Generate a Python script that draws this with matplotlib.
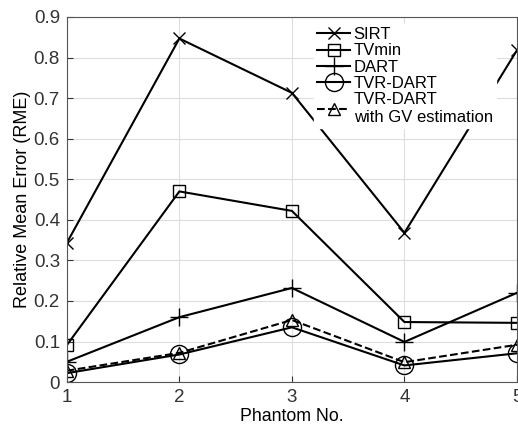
import matplotlib.pyplot as plt
import numpy as np

plt.rcParams['font.family'] = ['Liberation Sans', 'DejaVu Sans']

phantoms = [1, 2, 3, 4, 5]
sirt = [0.343, 0.847, 0.713, 0.368, 0.818]
tvmin = [0.091, 0.470, 0.422, 0.148, 0.146]
dart = [0.050, 0.160, 0.232, 0.099, 0.220]
tvr_dart = [0.022, 0.068, 0.135, 0.041, 0.071]
tvr_dart_gv = [0.028, 0.072, 0.153, 0.049, 0.092]

fig = plt.figure(figsize=(5.18, 4.25), dpi=100)
ax = fig.add_axes([0.129, 0.101, 0.869, 0.859])

mk = dict(color='black', lw=1.5, markerfacecolor='none', markeredgecolor='black',
          markeredgewidth=1.0)
ax.plot(phantoms, sirt, marker='x', ms=9, label='SIRT', **mk)
ax.plot(phantoms, tvmin, marker='s', ms=9, label='TVmin', **mk)
ax.plot(phantoms, dart, marker='+', ms=13, label='DART', **mk)
ax.plot(phantoms, tvr_dart, marker='o', ms=13, label='TVR-DART', **mk)
ax.plot(phantoms, tvr_dart_gv, marker='^', ms=8, ls='--',
        label='TVR-DART\nwith GV estimation', **mk)

ax.set_xlim(1, 5)
ax.set_ylim(0, 0.9)
ax.set_xticks(phantoms)
ax.set_yticks(np.arange(0, 0.91, 0.1))
ax.set_yticklabels(['0', '0.1', '0.2', '0.3', '0.4', '0.5', '0.6', '0.7', '0.8', '0.9'])
ax.grid(True, color='#dddddd', lw=0.8)
ax.set_axisbelow(True)
ax.tick_params(direction='in', labelsize=13.5, colors='#333333', length=4, pad=5)
for s in ax.spines.values():
    s.set_color('#555555')
ax.set_xlabel('Phantom No.', fontsize=12.8, labelpad=1.5)
ax.set_ylabel('Relative Mean Error (RME)', fontsize=13, labelpad=2)

leg = ax.legend(loc='upper left', bbox_to_anchor=(0.537, 0.995), frameon=True,
                fontsize=12, handlelength=2.0, handletextpad=0.2,
                labelspacing=0.08, borderpad=0.2, borderaxespad=0.3)
leg.get_frame().set_edgecolor('white')
leg.get_frame().set_facecolor('white')
leg.get_frame().set_alpha(1.0)
leg.get_frame().set_boxstyle('square', pad=0)

fig.savefig('out.png', dpi=100)
